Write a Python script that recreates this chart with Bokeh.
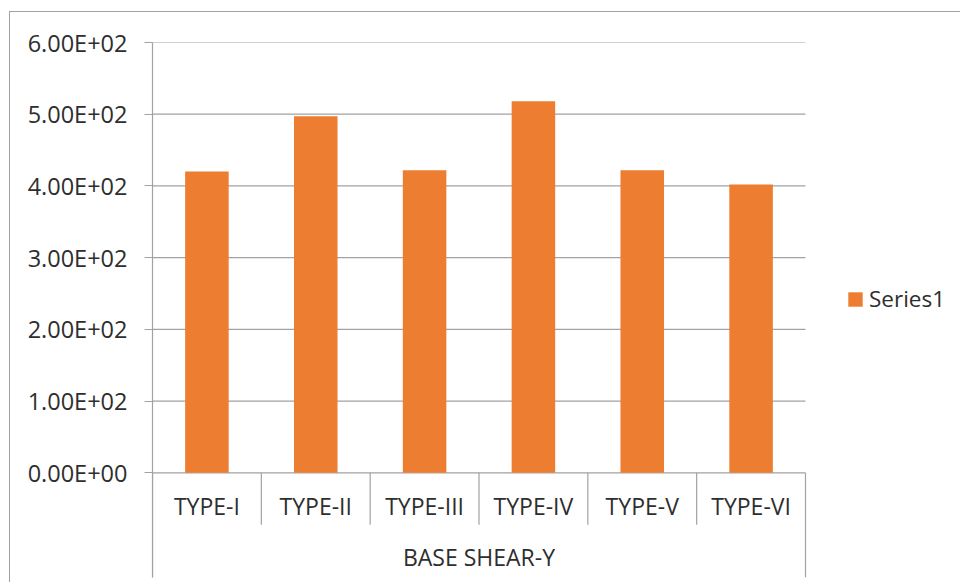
from bokeh.plotting import figure
from bokeh.models import Range1d, FixedTicker, Legend, LegendItem, ColumnDataSource
from bokeh.core.properties import value
from bokeh.embed import file_html
from bokeh.resources import INLINE
import numpy as np

# Base shear (Y direction) for each structure type
categories = ["TYPE-I", "TYPE-II", "TYPE-III", "TYPE-IV", "TYPE-V", "TYPE-VI"]
base_shear_y = [420, 497, 422, 518, 422, 402]
group_label = "BASE SHEAR-Y"
series_name = "Series1"

y_ticks = [0, 100, 200, 300, 400, 500, 600]
y_tick_labels = ["0.00E+00", "1.00E+02", "2.00E+02", "3.00E+02",
                 "4.00E+02", "5.00E+02", "6.00E+02"]

FONT = "Open Sans"
TEXT_COLOR = "#2e2e2e"
LINE_COLOR = "#a2a2a2"
BAR_COLOR = "#ED7D31"

n = len(categories)
centers = np.arange(n) + 0.5

# Canvas geometry: the frame runs past the last category to hold the legend,
# and below zero to hold the category band.
FRAME_W, BAR_AREA_W = 808, 653
X_END = n * FRAME_W / BAR_AREA_W
Y_BOTTOM = -146
INNER_SEP_BOTTOM = -72.5

p = figure(
    frame_width=FRAME_W, frame_height=535,
    x_range=Range1d(0, X_END), y_range=Range1d(Y_BOTTOM, y_ticks[-1]),
    output_backend="svg", toolbar_location=None,
    x_axis_location=None,
    min_border_left=142, min_border_right=0,
    min_border_top=30, min_border_bottom=5,
    background_fill_color="white", border_fill_color="white",
)
p.margin = (11, 0, 0, 9)
p.styles = {"border-top": f"1px solid {LINE_COLOR}",
            "border-left": f"1px solid {LINE_COLOR}"}
p.outline_line_color = None
p.xgrid.visible = False
p.ygrid.visible = False

yax = p.yaxis[0]
yax.ticker = FixedTicker(ticks=y_ticks)
yax.major_label_overrides = {t: lab for t, lab in zip(y_ticks, y_tick_labels)}
yax.axis_line_color = LINE_COLOR
yax.axis_line_width = 1.2
yax.major_tick_line_color = LINE_COLOR
yax.major_tick_line_width = 1.2
yax.major_tick_out = 8
yax.major_tick_in = 0
yax.minor_tick_line_color = None
yax.major_label_standoff = 17
yax.major_label_text_font = FONT
yax.major_label_text_font_size = "23.5px"
yax.major_label_text_color = TEXT_COLOR

# Horizontal gridlines across the category span only
p.segment(x0=0, y0=y_ticks, x1=n, y1=y_ticks,
          line_color=LINE_COLOR, line_width=1.2)

src = ColumnDataSource(dict(x=centers, top=base_shear_y, label=categories))
bars = p.vbar(x="x", top="top", width=0.4, bottom=0, source=src,
              fill_color=BAR_COLOR, line_color=None)

# Category separators and outer bounds of the category band
inner = np.arange(1, n)
p.segment(x0=inner, y0=0, x1=inner, y1=INNER_SEP_BOTTOM,
          line_color=LINE_COLOR, line_width=1.2)
p.segment(x0=[0, n], y0=0, x1=[0, n], y1=Y_BOTTOM,
          line_color=LINE_COLOR, line_width=1.2)

p.text(x="x", y=0, text="label", source=src, y_offset=33,
       text_font=value(FONT), text_font_size="23px", text_color=TEXT_COLOR,
       text_align="center", text_baseline="alphabetic")
p.text(x=[n / 2], y=[0], text=[group_label], y_offset=84,
       text_font=value(FONT), text_font_size="23px", text_color=TEXT_COLOR,
       text_align="center", text_baseline="alphabetic")

# Legend to the right of the bars
legend = Legend(items=[LegendItem(label=series_name, renderers=[bars])],
                location=(694, 263), margin=0, padding=0,
                glyph_width=18, glyph_height=18, label_standoff=5,
                label_text_font=FONT, label_text_font_size="22.5px",
                label_text_color=TEXT_COLOR,
                border_line_color=None, background_fill_alpha=0)
p.add_layout(legend)

open("out.html", "w").write(file_html(p, INLINE))
